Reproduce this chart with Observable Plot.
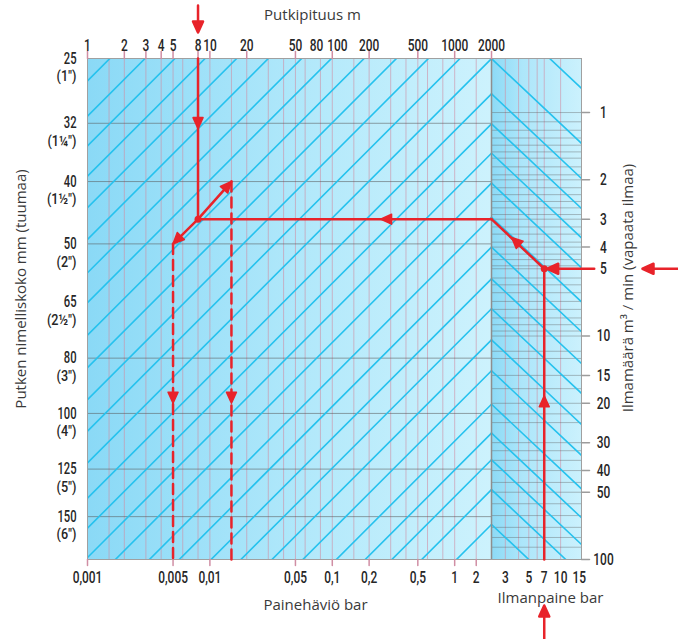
<!DOCTYPE html>
<html><head><meta charset="utf-8">
<script src="https://cdn.jsdelivr.net/npm/d3@7"></script>
<script src="https://cdn.jsdelivr.net/npm/@observablehq/plot@0.6"></script>
<style>
body{margin:0;background:#fff;}
#chart{width:678px;height:639px;}
</style></head><body><div id="chart"></div>
<script>
// ---------------- data ----------------
// top axis: pipe length (m)
const topTicks = [1,2,3,4,5,8,10,20,50,80,100,200,500,1000,2000];
const lengthGrid = [1.5,2,3,4,5,6,8,10,15,20,30,40,50,60,80,100,150,200,300,400,500,600,800,1000,1500];
// bottom axis: pressure drop (bar); where each label sits on the drop scale
const dropTickLabels = ["0,001","0,005","0,01","0,05","0,1","0,2","0,5","1","2"];
const dropTickAt = [0.001,0.005,0.01,0.05,0.1,0.2,0.5,1,1.5];
// right panel: air pressure (bar)
const pressureTicks = [3,5,7,10,15];
const pressureGrid = [3,4,5,6,7,10];
// right axis: air flow m3/min (free air)
const flowTicks = [1,2,3,4,5,10,15,20,30,40,50,100];
const flowGrid = [1,1.1,1.2,1.3,1.4,1.5,1.6,1.75,1.9,2,2.17,2.33,2.5,2.67,2.86,3,3.25,3.5,3.8,4,4.3,4.55,4.85,5,
  5.5,5.9,6.4,7,7.6,8.3,8.9,9.5,10,11.7,12.6,15,17.2,20,22.3,24.4,30,32.6,36,40,45.2,50,56.3,63.6,71.8,79.7,88.1];
// left axis: nominal pipe size (mm / inch) and the flow level each row sits on
const pipeSizes = [25,32,40,50,65,80,100,125,150];
const pipeInches = ['(1")','(1¼")','(1½")','(2")','(2½")','(3")','(4")','(5")','(6")'];
const pipeRowFlow = [0.573,1.117,2.036,3.87,7.06,12.56,22.2,39.4,64.3];
const pipeRowLined = [false,true,true,true,false,true,true,true,true];
// guide lines: flow at which each guide crosses the 2000 m line (extended)
const guideFlowAt2000 = [0.0112,0.0161,0.0219,0.0299,0.0414,0.0574,0.0809,0.110,0.154,0.215,0.299,0.414,
  0.574,0.825,1.124,1.521,2.07,2.94,4.0,5.55,7.55,10.4,14.3,20.2,27.2,35.8,48.7,69.7];
const panelGuideFlow = [0.326,0.574,0.825,1.124,1.521,2.07,2.94,4.0,5.55,7.55,10.4,14.3,20.2,27.2,35.8,48.7,69.7];
const mainGuideSlope = 0.548;   // |dlogQ/dlogL| of the main guides
const panelGuideSlope = 0.445;  // dlogQ/dlogp of the pressure-panel guides
// worked example
const exLength = 8, exFlow = 3, exFreeFlow = 5, exPressure = 7;
const exResults = [{drop: 0.005, pipe: 50}, {drop: 0.015, pipe: 40}];

// ---------------- scale calibration ----------------
const Qmin = 0.573, Qmax = 100;
const Lmin = 1, Ldiv = 2000, Lmax = 10870;
const pMin = 2.22, pMax = 15.76;
const pLog = d3.scaleLog().domain([pMin, pMax]).range([Math.log(Ldiv), Math.log(Lmax)]);
const pressL = p => Math.exp(pLog(p));
const pipeQ = new Map(pipeSizes.map((d, i) => [d, pipeRowFlow[i]]));

const RED = "#e8232a", CYAN = "#26c2ee", PINK = "#d08ea4", GRID = "#5a5a5a", TXT = "#262626";
const DIGITS = "Roboto,'DejaVu Sans',sans-serif";
const TITLE = "'Open Sans','DejaVu Sans',sans-serif";

const mainGuides = guideFlowAt2000.flatMap((q, i) => [
  {g: i, L: Ldiv, Q: q}, {g: i, L: Lmin, Q: q * Math.pow(Ldiv / Lmin, mainGuideSlope)}]);
const panelGuides = panelGuideFlow.flatMap((q, i) => [
  {g: i, L: pressL(pMin), Q: q}, {g: i, L: pressL(pMax), Q: q * Math.pow(pMax / pMin, panelGuideSlope)}]);

const pipeRows = pipeSizes.map((d, i) => ({d, inch: pipeInches[i], Q: pipeRowFlow[i], lined: pipeRowLined[i]}));

const xP = pressL(exPressure);
const solid = [
  [{L: exLength, Q: Qmin}, {L: exLength, Q: exFlow}],
  [{L: exLength, Q: exFlow}, {L: Ldiv, Q: exFlow}],
  [{L: Ldiv, Q: exFlow}, {L: xP, Q: exFreeFlow}],
  [{L: xP, Q: exFreeFlow}, {L: xP, Q: Qmax}],
  ...exResults.map(r => [{L: exLength, Q: exFlow}, {L: r.drop * 1000, Q: pipeQ.get(r.pipe)}])
].flatMap((seg, i) => seg.map(p => ({...p, g: i})));
const dashed = exResults.flatMap((r, i) => [
  {g: i, L: r.drop * 1000, Q: pipeQ.get(r.pipe)}, {g: i, L: r.drop * 1000, Q: Qmax}]);

const headShape = {
  draw(context, l) {
    const h = 11, w = 5;
    if (l > h) { context.moveTo(0, 0); context.lineTo(0, -l + h); }
    context.moveTo(0, -l);
    context.lineTo(w, -l + h);
    context.lineTo(-w, -l + h);
    context.closePath();
  }
};
const tickShape = {draw(context, l) { context.moveTo(0, 0); context.lineTo(0, -l); }};
const arrow = (data, opts) => Plot.vector(data, {x: "L", y: "Q", rotate: "r", anchor: "end", length: 11,
  shape: headShape, stroke: RED, fill: RED, strokeWidth: 1.5, strokeLinejoin: "round", ...opts});
const digitText = (data, opts) => Plot.text(data, {fill: TXT, fontFamily: DIGITS, fontWeight: 500, fontSize: 17, ...opts});
const title = (t, opts) => Plot.text([t], {fontFamily: TITLE, fontSize: 15, fill: "#3a3a3a",
  textAnchor: "middle", lineAnchor: "middle", ...opts});
// the two crowded top labels are pushed apart slightly, as in the reference
const crowded = [80, 100];
const topLabel = (ticks, dx) => digitText(ticks, {x: d => d, frameAnchor: "top", dy: -8, dx, textAnchor: "middle",
  lineAnchor: "bottom", text: d => String(d)});

const chart = Plot.plot({
  width: 678, height: 639,
  marginLeft: 87, marginRight: 97, marginTop: 58, marginBottom: 80,
  style: {fontFamily: DIGITS, fontSize: "16px", background: "white", color: TXT},
  x: {type: "log", domain: [Lmin, Lmax], axis: null},
  y: {type: "log", domain: [Qmin, Qmax], reverse: true, axis: null},
  marks: [
    Plot.rect([{a: Lmin, b: Ldiv}], {x1: "a", x2: "b", y1: () => Qmin, y2: () => Qmax, fill: "url(#gMain)"}),
    Plot.rect([{a: Ldiv, b: Lmax}], {x1: "a", x2: "b", y1: () => Qmin, y2: () => Qmax, fill: "url(#gPanel)"}),
    Plot.ruleX(lengthGrid, {stroke: PINK, strokeOpacity: 0.6}),
    Plot.ruleX(pressureGrid.map(pressL), {stroke: PINK, strokeOpacity: 0.6}),
    Plot.ruleY(pipeRows.filter(r => r.lined), {y: "Q", x1: Lmin, x2: Ldiv, stroke: GRID, strokeOpacity: 0.55}),
    Plot.ruleY(flowGrid, {x1: Ldiv, x2: Lmax, stroke: GRID, strokeOpacity: 0.38}),
    Plot.line(mainGuides, {x: "L", y: "Q", z: "g", stroke: CYAN, strokeWidth: 1.6, clip: true}),
    Plot.line(panelGuides, {x: "L", y: "Q", z: "g", stroke: CYAN, strokeWidth: 1.6, clip: true}),
    Plot.frame({stroke: "#a0a0a0"}),
    Plot.ruleX([Ldiv], {stroke: "#8e8e8e", strokeWidth: 1.5}),
    // tick marks
    Plot.vector(topTicks.filter(d => d !== 80), {x: d => d, y: () => Qmin, rotate: 0, anchor: "start", length: 7, shape: tickShape, stroke: PINK}),
    Plot.vector(dropTickAt, {x: v => v * 1000, y: () => Qmax, rotate: 180, anchor: "start", length: 6, shape: tickShape, stroke: PINK}),
    Plot.vector(flowTicks, {x: () => Lmax, y: d => d, rotate: 90, anchor: "start", length: 8, shape: tickShape, stroke: "#9c9c9c"}),
    // tick labels
    topLabel(topTicks.filter(d => !crowded.includes(d)), 0),
    topLabel([crowded[0]], -4),
    topLabel([crowded[1]], 5),
    digitText(dropTickAt, {x: v => v * 1000, frameAnchor: "bottom", dy: 11, textAnchor: "middle", lineAnchor: "top",
      text: (v, i) => dropTickLabels[i]}),
    digitText(pressureTicks, {x: p => pressL(p), frameAnchor: "bottom", dy: 11, textAnchor: "middle", lineAnchor: "top",
      text: d => String(d)}),
    digitText(flowTicks, {y: d => d, frameAnchor: "right", dx: 22, textAnchor: "middle", lineAnchor: "middle",
      text: d => String(d)}),
    digitText(pipeRows, {x: () => Lmin, y: "Q", text: d => String(d.d), textAnchor: "end", lineAnchor: "middle",
      dx: -11, fontSize: 16}),
    digitText(pipeRows, {x: () => Lmin, y: "Q", text: "inch", textAnchor: "end", lineAnchor: "middle",
      dx: -11, dy: 18, fontSize: 15}),
    // titles
    title("Putkipituus m", {frameAnchor: "top-left", dx: 225, dy: -43}),
    title("Painehäviö bar", {frameAnchor: "bottom-left", dx: 228, dy: 46}),
    title("Ilmanpaine bar", {frameAnchor: "bottom-right", dx: -31, dy: 39}),
    title("Putken nimelliskoko mm (tuumaa)", {frameAnchor: "left", dx: -66, dy: -20, rotate: -90}),
    title("Ilmamäärä m³ / min (vapaata ilmaa)", {frameAnchor: "right", dx: 47, dy: -21, rotate: -90}),
    // worked example (red)
    Plot.line(solid, {x: "L", y: "Q", z: "g", stroke: RED, strokeWidth: 2.5}),
    Plot.line(dashed, {x: "L", y: "Q", z: "g", stroke: RED, strokeWidth: 2.5, strokeDasharray: "10,6"}),
    Plot.dot([{L: exLength, Q: exFlow}, {L: xP, Q: exFreeFlow}], {x: "L", y: "Q", r: 3.5, fill: RED}),
    arrow([
      {L: exLength, Q: 1.18, r: 180},
      {L: 248, Q: exFlow, r: 270},
      {L: pressL(3.44), Q: 3.62, r: 313},
      {L: xP, Q: 18.5, r: 0},
      {L: exResults[0].drop * 1000, Q: 20, r: 180},
      {L: exResults[1].drop * 1000, Q: 20, r: 180},
      {L: exResults[0].drop * 1000, Q: pipeQ.get(exResults[0].pipe), r: 225},
      {L: exResults[1].drop * 1000, Q: pipeQ.get(exResults[1].pipe), r: 42}
    ]),
    arrow([{L: exLength, Q: Qmin, r: 180}], {length: 27, dy: -26, strokeWidth: 2.5}),
    arrow([{L: Lmax, Q: exFreeFlow, r: 270}], {length: 37, dx: 61, strokeWidth: 2.5}),
    arrow([{L: xP, Q: exFreeFlow, r: 270}], {length: 47, dx: 3, strokeWidth: 2.5}),
    arrow([{L: xP, Q: Qmax, r: 0}], {length: 35, dy: 46, strokeWidth: 2.5})
  ]
});

const NS = "http://www.w3.org/2000/svg";
const defs = document.createElementNS(NS, "defs");
defs.innerHTML =
  '<linearGradient id="gMain" x1="0" x2="1" y1="0" y2="0">' +
  '<stop offset="0" stop-color="#8ad9f6"/><stop offset="0.6" stop-color="#b6eafb"/><stop offset="1" stop-color="#cdf2fd"/></linearGradient>' +
  '<linearGradient id="gPanel" x1="0" x2="1" y1="0" y2="0">' +
  '<stop offset="0" stop-color="#8cdaf6"/><stop offset="0.35" stop-color="#ade6fa"/><stop offset="1" stop-color="#cbf1fd"/></linearGradient>';
chart.insertBefore(defs, chart.firstChild);
document.getElementById("chart").appendChild(chart);
// condense the tick-label digits (the reference uses a condensed face)
chart.querySelectorAll("text").forEach(t => {
  const g = t.closest("g");
  if (!g || g.getAttribute("font-weight") !== "500") return;
  const factor = g.getAttribute("font-size") === "15" ? 0.84 : 0.7;
  const w = t.getComputedTextLength();
  if (w > 0) {
    t.setAttribute("textLength", (w * factor).toFixed(2));
    t.setAttribute("lengthAdjust", "spacingAndGlyphs");
  }
});
</script></body></html>
